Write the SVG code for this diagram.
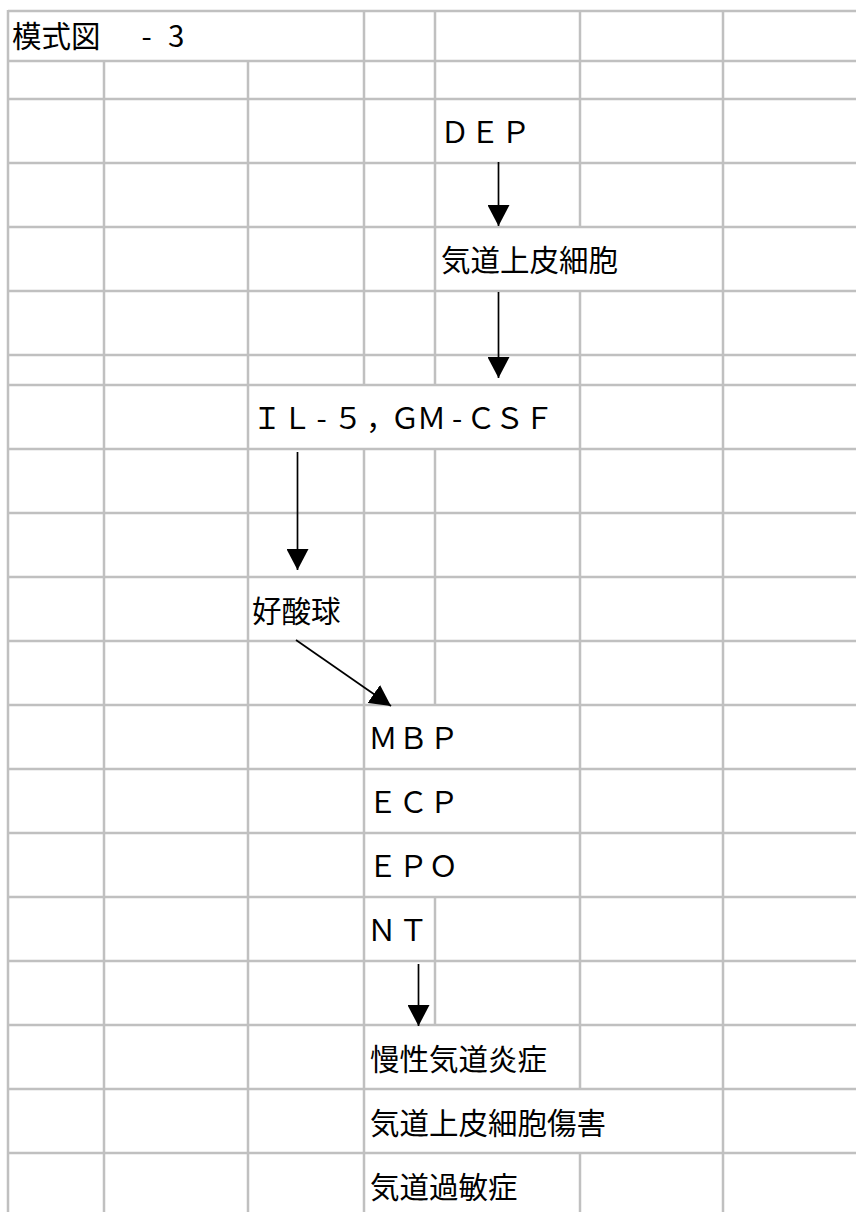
<svg xmlns="http://www.w3.org/2000/svg" width="856" height="1212" viewBox="0 0 856 1212">
<style>
.g line{stroke:#c0c0c0;stroke-width:2.5}
text{font-family:"Noto Sans CJK JP","Noto Sans",sans-serif;font-size:29.5px;fill:#000}
.c path{stroke:#000;stroke-width:1.7;fill:none}
</style>
<defs>
<marker id="ah" markerUnits="userSpaceOnUse" markerWidth="21" markerHeight="22" refX="21" refY="11" orient="auto" viewBox="0 0 21 22">
<path d="M0,0 L21,11 L0,22 Z" fill="#000"/>
</marker>
</defs>
<rect width="856" height="1212" fill="#fff"/>
<g class="g" id="grid">
<line x1="8" y1="11" x2="856" y2="11"/>
<line x1="8" y1="61" x2="856" y2="61"/>
<line x1="8" y1="99" x2="856" y2="99"/>
<line x1="8" y1="163" x2="856" y2="163"/>
<line x1="8" y1="227" x2="856" y2="227"/>
<line x1="8" y1="291" x2="856" y2="291"/>
<line x1="8" y1="355" x2="856" y2="355"/>
<line x1="8" y1="385" x2="856" y2="385"/>
<line x1="8" y1="449" x2="856" y2="449"/>
<line x1="8" y1="513" x2="856" y2="513"/>
<line x1="8" y1="577" x2="856" y2="577"/>
<line x1="8" y1="641" x2="856" y2="641"/>
<line x1="8" y1="705" x2="856" y2="705"/>
<line x1="8" y1="769" x2="856" y2="769"/>
<line x1="8" y1="833" x2="856" y2="833"/>
<line x1="8" y1="897" x2="856" y2="897"/>
<line x1="8" y1="961" x2="856" y2="961"/>
<line x1="8" y1="1025" x2="856" y2="1025"/>
<line x1="8" y1="1089" x2="856" y2="1089"/>
<line x1="8" y1="1153" x2="856" y2="1153"/>
<line x1="8" y1="10" x2="8" y2="1212"/>
<line x1="104" y1="61" x2="104" y2="1212"/>
<line x1="248" y1="61" x2="248" y2="1212"/>
<line x1="364" y1="11" x2="364" y2="385"/>
<line x1="364" y1="449" x2="364" y2="1212"/>
<line x1="435" y1="11" x2="435" y2="385"/>
<line x1="435" y1="449" x2="435" y2="705"/>
<line x1="435" y1="897" x2="435" y2="1025"/>
<line x1="580" y1="11" x2="580" y2="227"/>
<line x1="580" y1="291" x2="580" y2="1089"/>
<line x1="580" y1="1153" x2="580" y2="1212"/>
<line x1="723" y1="11" x2="723" y2="1212"/>
</g>
<g id="title"><text x="12 41.5 71 100.5 141.5 151 168" y="46.5" xml:space="preserve">模式図 - 3</text></g>
<g id="dep"><text x="440 470.3 501" y="142.5">ＤＥＰ</text></g>
<g id="epithelium"><text x="441" y="270.5">気道上皮細胞</text></g>
<g id="cytokines"><text x="252.3 282.3 316.5 333.3 366 390.3 416.8 452 466.3 494.8 524.3" y="428.5">ＩＬ-５，ＧＭ-ＣＳＦ</text></g>
<g id="eosinophil"><text x="252" y="621.5">好酸球</text></g>
<g id="mbp"><text x="368.3 398.5 429.3" y="749">ＭＢＰ</text></g>
<g id="ecp"><text x="368 398.5 429.3" y="813">ＥＣＰ</text></g>
<g id="epo"><text x="368 398.5 428.5" y="877">ＥＰＯ</text></g>
<g id="nt"><text x="367 398.5" y="941">ＮＴ</text></g>
<g id="inflammation"><text x="370" y="1069.5">慢性気道炎症</text></g>
<g id="damage"><text x="370" y="1133.5">気道上皮細胞傷害</text></g>
<g id="hyper"><text x="370" y="1197.5">気道過敏症</text></g>
<g class="c" id="connectors">
<path d="M498.5,162 L498.5,226" marker-end="url(#ah)"/>
<path d="M498.5,292 L498.5,378" marker-end="url(#ah)"/>
<path d="M297.5,452 L297.5,570" marker-end="url(#ah)"/>
<path d="M296,640 L391,706" marker-end="url(#ah)"/>
<path d="M418.5,964 L418.5,1026" marker-end="url(#ah)"/>
</g>
</svg>
